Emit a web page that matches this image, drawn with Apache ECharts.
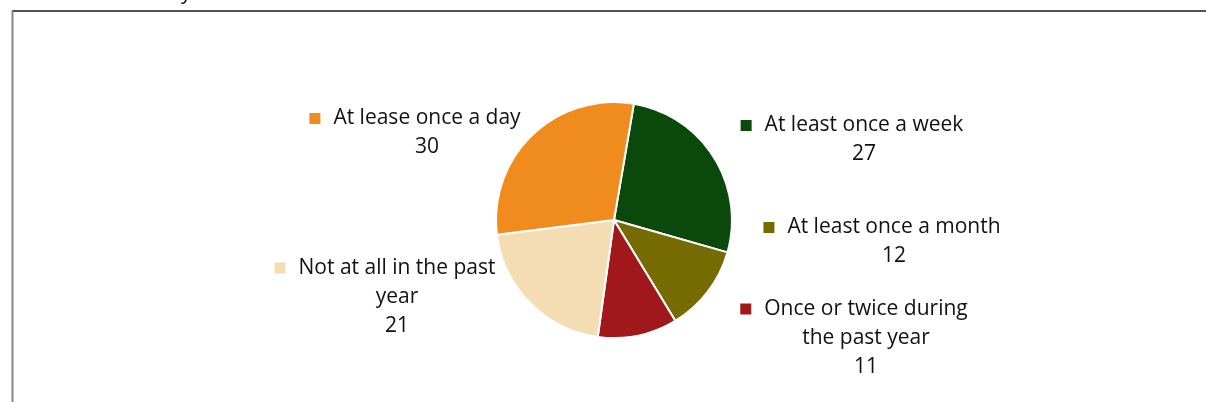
<!DOCTYPE html>
<html>
<head>
<meta charset="utf-8">
<script src="https://cdn.jsdelivr.net/npm/echarts@6/dist/echarts.min.js"></script>
<style>
html,body{margin:0;padding:0;background:#fff;}
#c{width:1206px;height:402px;}
</style>
</head>
<body>
<div id="c"></div>
<script>
const categories = ['At least once a week', 'At least once a month', 'Once or twice during the past year', 'Not at all in the past year', 'At lease once a day'];
const labelLines = [['At least once a week'], ['At least once a month'], ['Once or twice during', 'the past year'], ['Not at all in the past', 'year'], ['At lease once a day']];
const values = [27, 12, 11, 21, 30];
const colors = ['#0B480C', '#756B00', '#A0171C', '#F4DDB2', '#F08C1E'];

const labelPos = [[864, 140], [894, 242], [866, 338], [397, 297], [427, 133]];

const FONT = 'Open Sans';
const rich = { t: { fontSize: 21, fontFamily: FONT, color: '#111', lineHeight: 29 }, pad: { width: 24, height: 11 }, gap: { width: 13, height: 11 } };
colors.forEach((c, i) => { rich['sq' + i] = { width: 11, height: 11, backgroundColor: c }; });

const data = categories.map((name, i) => {
  const lines = labelLines[i];
  let txt = '{sq' + i + '|}{gap|}{t|' + lines[0] + '}{pad|}';
  for (let k = 1; k < lines.length; k++) txt += '\n{t|' + lines[k] + '}';
  txt += '\n{t|' + values[i] + '}';
  return { name, value: values[i], itemStyle: { color: colors[i] }, label: { formatter: txt } };
});

const chart = echarts.init(document.getElementById('c'), null, { renderer: 'canvas' });
chart.setOption({
  animation: false,
  backgroundColor: '#fff',
  graphic: [
    { type: 'line', shape: { x1: 12, y1: 11, x2: 1206, y2: 11 }, style: { stroke: '#1a1a1a', lineWidth: 1.5 } },
    { type: 'line', shape: { x1: 12.5, y1: 11, x2: 12.5, y2: 402 }, style: { stroke: '#888', lineWidth: 2 } },
    { type: 'text', left: 181, top: -17, style: { text: 'y', fontSize: 21, fontFamily: FONT, fill: '#111' } }
  ],
  series: [{
    type: 'pie',
    center: [614, 220],
    radius: 118,
    startAngle: 80.3,
    clockwise: true,
    itemStyle: { borderColor: '#fff', borderWidth: 2 },
    label: { show: true, position: 'outside', rich: rich, align: 'center', lineHeight: 29 },
    labelLine: { show: false },
    labelLayout: function (p) {
      const pos = labelPos[p.dataIndex];
      return { x: pos[0], y: pos[1], align: 'center', verticalAlign: 'middle' };
    },
    emphasis: { disabled: true },
    data: data
  }]
});
</script>
</body>
</html>
